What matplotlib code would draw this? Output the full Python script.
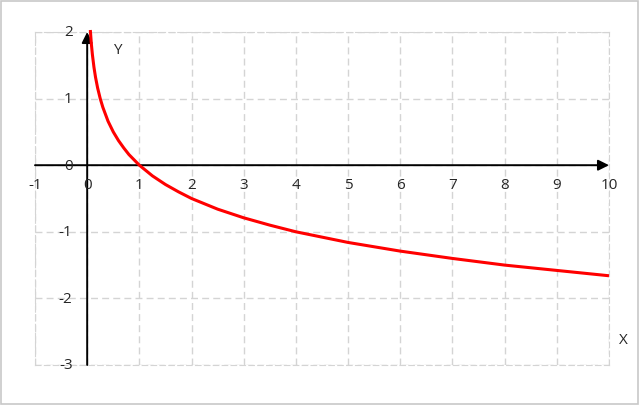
import matplotlib.pyplot as plt
from matplotlib.patches import Rectangle

# values
xs = [0.06, 0.08, 0.1, 0.13, 0.16, 0.2, 0.25, 0.3, 0.4, 0.5, 0.6, 0.7, 0.8, 0.9,
      1.0, 1.25, 1.5, 1.75, 2.0, 2.5, 3.0, 3.5, 4.0, 5.0, 6.0, 7.0, 8.0, 9.0, 10.0]
ys = [2.03, 1.82, 1.66, 1.47, 1.32, 1.16, 1.0, 0.87, 0.66, 0.5, 0.37, 0.26, 0.16, 0.08,
      0.0, -0.16, -0.29, -0.4, -0.5, -0.66, -0.79, -0.9, -1.0, -1.16, -1.29, -1.4, -1.5, -1.58, -1.66]
x_ticks = list(range(-1, 11))
y_ticks = [-3, -2, -1, 0, 1, 2]

plt.rcParams['font.family'] = ['Open Sans', 'DejaVu Sans']
fig = plt.figure(figsize=(6.4, 4.06), dpi=100)
ax = fig.add_axes([35 / 640, 1 - 366 / 406, (609 - 35) / 640, (366 - 33) / 406])
ax.set_xlim(-1, 10)
ax.set_ylim(-3, 2)
ax.set_xticks(x_ticks)
ax.set_yticks(y_ticks)
ax.tick_params(length=0, labelbottom=False, labelleft=False)
ax.grid(True, color='#d4d4d4', linestyle=(0, (5, 3)), lw=1)
for s in ax.spines.values():
    s.set_color('#d4d4d4')
    s.set_linestyle((0, (5, 3)))

# axes with arrows
ax.annotate('', xy=(10, 0), xytext=(-1, 0),
            arrowprops=dict(arrowstyle='-|>', color='black', lw=1.4, mutation_scale=16, shrinkA=0, shrinkB=0))
ax.annotate('', xy=(0, 2), xytext=(0, -3),
            arrowprops=dict(arrowstyle='-|>', color='black', lw=1.4, mutation_scale=16, shrinkA=0, shrinkB=0))

ax.plot(xs, ys, color='#ff0000', lw=2.2, solid_capstyle='butt', clip_on=False, zorder=3)

for x in x_ticks:
    ax.text(x, -0.285, str(x), ha='center', va='center', fontsize=11, color='#262626')
for y in y_ticks:
    ax.text(-0.28, y, str(y), ha='right', va='center', fontsize=11, color='#262626')
ax.text(0.57, 1.74, 'Y', ha='center', va='center', fontsize=11, color='#262626')
ax.text(10.27, -2.61, 'X', ha='center', va='center', fontsize=11, color='#262626')

fig.patches.append(Rectangle((0.002, 0.003), 0.995, 0.993, transform=fig.transFigure,
                             fill=False, edgecolor='#c8c8c8', lw=1.2))
fig.savefig('out.png', dpi=100)
